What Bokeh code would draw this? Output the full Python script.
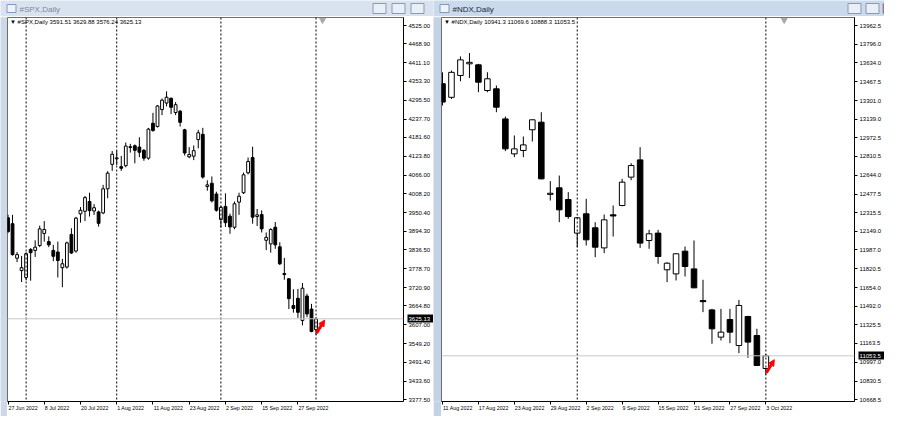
import pandas as pd
from bokeh.plotting import figure
from bokeh.layouts import row, column
from bokeh.models import (FixedTicker, Span, Label, Arrow, NormalHead, LinearAxis,
                          ColumnDataSource, NumeralTickFormatter)
from bokeh.core.properties import value
from bokeh.embed import file_html
from bokeh.resources import INLINE

# ---------------- data ----------------
spx_dates = [d for d in pd.bdate_range("2022-06-27", "2022-10-03")
             if d.strftime("%Y-%m-%d") not in ("2022-07-04", "2022-09-05")]
spx_open = [3935, 3917, 3811, 3773, 3752, 3838, 3835, 3850, 3887, 3862, 3835, 3830, 3782, 3784, 3884, 3833,
            3947, 3955, 3985, 3956, 3953, 3950, 4024, 4099, 4116, 4092, 4095, 4153, 4156, 4152, 4142, 4118,
            4225, 4215, 4267, 4287, 4302, 4258, 4262, 4205, 4122, 4124, 4175, 4191, 4031, 4041, 4008, 3930,
            3970, 3940, 3906, 3983, 4012, 4073, 4120, 3939, 3945, 3866, 3855, 3906, 3846, 3764, 3748, 3666,
            3688, 3620, 3695, 3655, 3591.51]
spx_high = [3945, 3944, 3830, 3818, 3829, 3842, 3866, 3911, 3925, 3878, 3852, 3862, 3809, 3862, 3903, 3938,
            3968, 4002, 4012, 3977, 3957, 4036, 4078, 4140, 4140, 4125, 4166, 4162, 4160, 4182, 4146, 4211,
            4257, 4281, 4301, 4323, 4303, 4290, 4266, 4208, 4152, 4157, 4205, 4211, 4050, 4062, 4015, 3972,
            4010, 3948, 3985, 4012, 4074, 4120, 4153, 3962, 3958, 3890, 3903, 3922, 3860, 3812, 3750, 3716,
            3717, 3735, 3702, 3671, 3629.88]
spx_low = [3888, 3819, 3799, 3738, 3743, 3742, 3815, 3845, 3862, 3845, 3802, 3752, 3722, 3779, 3824, 3828,
           3920, 3925, 3939, 3944, 3908, 3946, 3995, 4079, 4097, 4079, 4090, 4135, 4102, 4121, 4110, 4113,
           4199, 4212, 4250, 4277, 4253, 4250, 4215, 4126, 4118, 4112, 4148, 4055, 4018, 3982, 3954, 3905,
           3907, 3886, 3900, 3944, 4008, 4068, 3917, 3910, 3890, 3836, 3828, 3840, 3790, 3745, 3655, 3644,
           3628, 3605, 3630, 3584, 3576.24]
spx_close = [3893, 3822, 3822, 3782, 3825, 3828, 3845, 3901, 3899, 3852, 3817, 3804, 3794, 3858, 3827, 3934,
             3958, 3997, 3957, 3966, 3918, 4024, 4072, 4130, 4119, 4087, 4155, 4151, 4142, 4136, 4118, 4207,
             4203, 4278, 4296, 4305, 4274, 4282, 4228, 4134, 4129, 4141, 4196, 4060, 4036, 3987, 3958, 3967,
             3920, 3907, 3978, 4001, 4067, 4108, 3937, 3944, 3901, 3875, 3899, 3852, 3794, 3761, 3687, 3657,
             3645, 3719, 3640, 3586, 3625.13]
spx_yticks = [4525.00, 4468.90, 4411.10, 4353.30, 4295.50, 4237.70, 4181.60, 4123.80, 4066.00, 4008.20,
              3950.40, 3894.30, 3836.50, 3778.70, 3720.90, 3664.80, 3607.00, 3549.20, 3491.40, 3433.60, 3377.50]
spx_xlabels = ["27 Jun 2022", "8 Jul 2022", "20 Jul 2022", "1 Aug 2022", "11 Aug 2022",
               "23 Aug 2022", "2 Sep 2022", "15 Sep 2022", "27 Sep 2022"]

ndx_dates = [d for d in pd.bdate_range("2022-08-11", "2022-10-03")
             if d.strftime("%Y-%m-%d") != "2022-09-05"]
ndx_open = [13450, 13330, 13522, 13625, 13616, 13390, 13405, 13140, 12832, 12862, 13044, 13111, 12475,
            12533, 12430, 12134, 12304, 12181, 12004, 12295, 12377, 12627, 12779, 12069, 12134, 11811,
            11775, 11975, 11819, 11540, 11458, 11218, 11373, 11144, 11400, 11232, 10941.3]
ndx_high = [13550, 13566, 13690, 13720, 13625, 13551, 13434, 13161, 12994, 12985, 13135, 13199, 12592,
            12641, 12495, 12275, 12436, 12230, 12298, 12377, 12612, 12750, 12891, 12163, 12163, 11878,
            11957, 12016, 12069, 11723, 11467, 11467, 11467, 11546, 11405, 11291, 11069.6]
ndx_low = [13258, 13315, 13472, 13500, 13375, 13375, 13199, 12856, 12803, 12803, 12941, 12608, 12421,
           12230, 12260, 12010, 12025, 11922, 11958, 12104, 12370, 12600, 12004, 11996, 11864, 11702,
           11717, 11752, 11650, 11438, 11159, 11188, 11165, 11077, 11036, 10965, 10888.3]
ndx_close = [13288, 13550, 13660, 13638, 13463, 13493, 13243, 12876, 12876, 12911, 13132, 12612, 12485,
             12339, 12280, 12269, 12075, 12010, 12251, 12285, 12583, 12729, 12046, 12128, 11928, 11869,
             11952, 11840, 11652, 11530, 11291, 11262, 11262, 11497, 11174, 10968, 11053.5]
ndx_yticks = [13962.5, 13796.0, 13634.0, 13467.5, 13301.0, 13139.0, 12972.5, 12810.5, 12644.0, 12477.5,
              12315.5, 12149.0, 11987.0, 11820.5, 11654.0, 11492.0, 11325.5, 11163.5, 10997.0, 10830.5, 10668.5]
ndx_xlabels = ["11 Aug 2022", "17 Aug 2022", "23 Aug 2022", "29 Aug 2022", "2 Sep 2022",
               "9 Sep 2022", "15 Sep 2022", "21 Sep 2022", "27 Sep 2022", "3 Oct 2022"]

FONT = "Liberation Sans"
TITLE_H = 16
CHART_H = 400
BOTTOM_H = 3
AX_FS = 6.0    # px
XL_FS = 5.3    # px

# rough Liberation Sans advance widths (em)
_W = {" ": 0.278, ".": 0.278, "J": 0.5, "S": 0.667, "A": 0.667, "O": 0.778, "u": 0.556, "n": 0.556,
      "l": 0.222, "g": 0.556, "e": 0.556, "p": 0.556, "c": 0.5, "t": 0.278}


def text_w(s, fs):
    return sum(_W.get(ch, 0.556) for ch in s) * fs


def date_label(d):
    return f"{d.day} {d.strftime('%b %Y')}"


def style_axis(ax, fs):
    ax.axis_line_color = "black"
    ax.major_tick_line_color = "black"
    ax.major_tick_out = 3
    ax.major_tick_in = 0
    ax.minor_tick_line_color = None
    ax.major_label_text_font = FONT
    ax.major_label_text_font_size = f"{fs}px"
    ax.major_label_text_color = "black"
    ax.major_label_standoff = 2


def make_chart(name, digits, dates, o, h, l, c, yticks, xlabels, width, border_right,
               bar0_px, spacing, frame_left_px, top_val, px_per_val, shift_px):
    n = len(dates)
    frame_w = width - border_right
    frame_right_px = frame_left_px + frame_w
    x0 = (frame_left_px - bar0_px) / spacing
    x1 = (frame_right_px - bar0_px) / spacing
    # frame top at ref y 17, bottom at ref y 401; first price tick sits at ref y 25
    y_top = top_val + 8 * px_per_val
    y_bot = top_val - 376 * px_per_val
    p = figure(width=width, height=CHART_H, x_range=(x0, x1), y_range=(y_bot, y_top),
               toolbar_location=None, output_backend="svg", y_axis_location="right",
               min_border_left=0, min_border_right=border_right,
               min_border_top=1, min_border_bottom=CHART_H - 1 - 384)
    p.background_fill_color = "white"
    p.border_fill_color = "white"
    p.outline_line_color = "#6e6e6e"
    p.grid.visible = False

    idx = list(range(n))
    bull = [ci >= oi for oi, ci in zip(o, c)]
    src = ColumnDataSource(dict(
        x=idx, o=o, h=h, l=l, c=c,
        top=[max(a, b) for a, b in zip(o, c)],
        bot=[min(a, b) for a, b in zip(o, c)],
        fill=["white" if b else "black" for b in bull]))
    p.segment(x0="x", y0="l", x1="x", y1="h", source=src, line_color="black", line_width=1)
    p.vbar(x="x", top="top", bottom="bot", width=0.62, source=src, fill_color="fill",
           line_color="black", line_width=1)

    # month separators
    for i in range(1, n):
        if dates[i].month != dates[i - 1].month:
            p.add_layout(Span(location=i, dimension="height", line_color="black",
                              line_dash="2 2", line_width=1))
    # current price line
    p.add_layout(Span(location=c[-1], dimension="width", line_color="#c8c8c8", line_width=1))

    # price axis
    fmt_num = "0." + "0" * digits
    yax = p.yaxis[0]
    yax.ticker = FixedTicker(ticks=yticks)
    yax.formatter = NumeralTickFormatter(format=fmt_num)
    style_axis(yax, AX_FS)

    # last price marker on the price scale: a second right axis with one thick tick drawn
    # back over the price scale, and its label pulled onto that tick
    main_w = 27
    cur = LinearAxis(ticker=FixedTicker(ticks=[c[-1]]), formatter=NumeralTickFormatter(format=fmt_num))
    style_axis(cur, AX_FS)
    cur.axis_line_color = None
    cur.major_tick_out = 0
    cur.major_tick_in = main_w - 1
    cur.major_tick_line_width = 8
    cur.major_tick_line_cap = "butt"
    cur.major_label_text_color = "white"
    cur.major_label_standoff = -(main_w - 2)
    p.add_layout(cur, "right")

    # time axis: tick marks at the bars, labels start at the tick (left aligned)
    xax = p.xaxis[0]
    xpos = [i for i in idx if date_label(dates[i]) in xlabels]
    xax.ticker = FixedTicker(ticks=xpos)
    xax.major_label_overrides = {i: "" for i in xpos}
    style_axis(xax, XL_FS)
    xax.major_label_standoff = 0
    xax.major_label_text_font_size = "1px"
    lab_pos = [i + (text_w(date_label(dates[i]), XL_FS) / 2 + 0.5) / spacing for i in xpos]
    xlab = LinearAxis(ticker=FixedTicker(ticks=lab_pos),
                      major_label_overrides={lp: date_label(dates[i]) for lp, i in zip(lab_pos, xpos)})
    style_axis(xlab, XL_FS)
    xlab.axis_line_color = None
    xlab.major_tick_line_color = None
    xlab.major_tick_out = 0
    xlab.major_label_standoff = 0
    p.add_layout(xlab, "below")

    fmt = "{:." + str(digits) + "f}"
    ohlc = " ".join(fmt.format(v) for v in (o[-1], h[-1], l[-1], c[-1]))
    p.add_layout(Label(x=x0 + 2.5 / spacing, y=top_val + 4 * px_per_val,
                       text=f"\u25bc {name},Daily  {ohlc}",
                       text_font=FONT, text_font_size="6px", text_baseline="middle", text_color="black"))
    # chart-shift marker
    p.scatter(x=[n - 1 + shift_px / spacing], y=[y_top - 2.5 * px_per_val], marker="inverted_triangle",
              size=6, fill_color="#a8a8a8", line_color="#a8a8a8")
    # red arrow object next to the last bar
    ys = l[-1] + 0.1 * (c[-1] - l[-1])
    p.add_layout(Arrow(end=NormalHead(size=6, fill_color="red", line_color="red"),
                       x_start=n - 1 + 0.5 / spacing, y_start=ys,
                       x_end=n - 1 + 8.5 / spacing, y_end=ys + 13 * px_per_val,
                       line_color="red", line_width=3))
    return p


def title_bar(text, width, active, buttons_px):
    t = figure(width=width, height=TITLE_H, x_range=(0, width), y_range=(TITLE_H, 0),
               toolbar_location=None, output_backend="svg", min_border=0)
    t.axis.visible = False
    t.grid.visible = False
    t.outline_line_color = None
    bg = "#cad9eb" if active else "#d9e3ef"
    t.background_fill_color = bg
    t.border_fill_color = bg
    # window icon
    t.rect(x=[11], y=[8], width=[9], height=[8], fill_color="#eef3f9", line_color="#7f9bbd")
    t.text(x=[19], y=[8.5], text=[text], text_font_size="8px", text_baseline="middle",
           text_color="#1e2a3a" if active else "#7d8898", text_font=value(FONT))
    cols = ["#e9eff6", "#e9eff6", "#cf4b3f" if active else "#e9eff6"]
    t.rect(x=[b[0] for b in buttons_px], y=[8] * 3, width=[b[1] for b in buttons_px], height=[10] * 3,
           fill_color=cols, line_color="#8a9bb0")
    return t


def strip(width, height, color, line=None):
    s = figure(width=width, height=height, toolbar_location=None, output_backend="svg", min_border=0,
               x_range=(0, 1), y_range=(0, 1))
    s.axis.visible = False
    s.grid.visible = False
    s.outline_line_color = line
    s.background_fill_color = color
    s.border_fill_color = color
    return s


LEFT_EDGE = 7      # window frame left of the SPX chart
LEFT_W = 426       # SPX chart figure (ref x 7..433)
SEP_W = 8          # frames between the windows (ref x 433..441)
RIGHT_W = 443      # NDX chart figure (ref x 441..884)

spx = make_chart("#SPX", 2, spx_dates, spx_open, spx_high, spx_low, spx_close, spx_yticks, spx_xlabels,
                 LEFT_W, 30, 7.5, 4.53, 7, 4525.0, 3.068, 6.5)
ndx = make_chart("#NDX", 1, ndx_dates, ndx_open, ndx_high, ndx_low, ndx_close, ndx_yticks, ndx_xlabels,
                 RIGHT_W, 26, 442, 9.07, 441, 13962.5, 8.807, 18.5)

left = column(title_bar("#SPX,Daily", LEFT_EDGE + LEFT_W, False, [(379, 13), (398, 13), (417, 13)]),
              row(strip(LEFT_EDGE, CHART_H, "#cdd9e8"), spx),
              strip(LEFT_EDGE + LEFT_W, BOTTOM_H, "#cdd9e8"))
right = column(title_bar("#NDX,Daily", SEP_W + RIGHT_W, True, [(421, 13), (439, 13), (458, 17)]),
               row(strip(SEP_W, CHART_H, "#c3d2e4"), ndx),
               strip(SEP_W + RIGHT_W, BOTTOM_H, "#cdd9e8"))
layout = row(left, right)

open("out.html", "w").write(file_html(layout, INLINE))
